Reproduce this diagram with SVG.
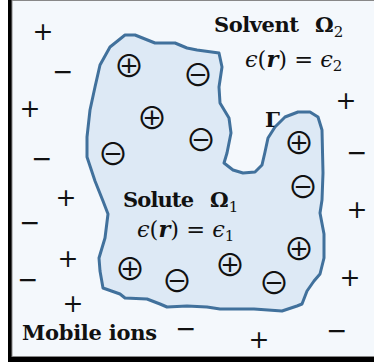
<svg xmlns="http://www.w3.org/2000/svg" width="374" height="362" viewBox="0 0 374 362">
<style>
.lbl{font-family:"DejaVu Serif","Liberation Serif",serif;font-weight:bold;font-size:21px;fill:#111}
.sub{font-family:"DejaVu Serif","Liberation Serif",serif;font-weight:normal;font-style:normal;font-size:15px;fill:#111}
.math{font-family:"DejaVu Serif","Liberation Serif",serif;font-size:22.5px;fill:#111}
.it{font-style:italic}
.bi{font-style:italic;font-weight:bold}
.ion{font-family:"Noto Sans CJK JP","DejaVu Sans",sans-serif;font-size:31px;fill:#111;text-anchor:middle}
.mob{font-family:"DejaVu Sans",sans-serif;font-size:25px;fill:#111;text-anchor:middle}
</style>
<rect x="8" y="0" width="366" height="362" fill="#000"/>
<rect x="12" y="0.5" width="363" height="356" fill="#f4f8fc" stroke="#888" stroke-width="1"/>
<g id="solute">
<path d="M110,47 L125,35 L135,35 L155,43 L175,43 L187,48 L197,50 L219,53 L222,67 L219,87 L220,103 L229,118 L231,133 L227,153 L224,163 L233,170 L243,173 L255,172 L262,165 L265,152 L268,138 L275,127 L285,117 L298,112 L310,112 L318,117 L322,130 L323,173 L322,200 L320,213 L324,234 L324,258 L320,274 L314,281 L307,291 L302,304 L297,306 L282,311 L254,309 L220,309 L207,307 L187,306 L167,307 L160,304 L147,299 L125,298 L120,294 L103,288 L100,271 L99,258 L105,238 L108,214 L103,201 L95,181 L87,157 L87,137 L90,110 L95,87 L100,65 Z" fill="#dde9f5" stroke="#41719c" stroke-width="3" stroke-linejoin="round"/>
</g>
<g id="labels">
<text class="lbl" x="214" y="32" textLength="85">Solvent</text>
<text class="lbl" x="315" y="32">Ω<tspan class="sub" dy="5">2</tspan></text>
<text class="math" x="245" y="67"><tspan class="it">ϵ</tspan>(<tspan class="bi">r</tspan>) = <tspan class="it">ϵ</tspan><tspan class="sub" dy="4">2</tspan></text>
<text class="lbl" x="265" y="127">Γ</text>
<text class="lbl" x="123" y="207" textLength="71">Solute</text>
<text class="lbl" x="210" y="207">Ω<tspan class="sub" dy="5">1</tspan></text>
<text class="math" x="137" y="237"><tspan class="it">ϵ</tspan>(<tspan class="bi">r</tspan>) = <tspan class="it">ϵ</tspan><tspan class="sub" dy="4">1</tspan></text>
<text class="lbl" x="22" y="340" textLength="135">Mobile ions</text>
</g>
<g id="fixed-charges">
<text class="ion" x="129" y="77">⊕</text>
<text class="ion" x="152" y="129">⊕</text>
<text class="ion" x="299" y="154">⊕</text>
<text class="ion" x="299" y="260">⊕</text>
<text class="ion" x="230" y="276">⊕</text>
<text class="ion" x="130" y="280">⊕</text>
<text class="ion" x="198" y="86">⊖</text>
<text class="ion" x="201" y="151">⊖</text>
<text class="ion" x="113" y="165">⊖</text>
<text class="ion" x="303" y="198">⊖</text>
<text class="ion" x="274" y="294">⊖</text>
<text class="ion" x="177" y="292">⊖</text>
</g>
<g id="mobile-ions">
<text class="mob" x="43" y="40">+</text>
<text class="mob" x="63" y="80">−</text>
<text class="mob" x="30" y="117">+</text>
<text class="mob" x="42" y="167">−</text>
<text class="mob" x="346" y="109">+</text>
<text class="mob" x="357" y="161">−</text>
<text class="mob" x="66" y="206">+</text>
<text class="mob" x="30" y="231">−</text>
<text class="mob" x="68" y="267">+</text>
<text class="mob" x="28" y="288">−</text>
<text class="mob" x="73" y="312">+</text>
<text class="mob" x="357" y="218">+</text>
<text class="mob" x="350" y="286">+</text>
<text class="mob" x="186" y="337">−</text>
<text class="mob" x="259" y="348">+</text>
<text class="mob" x="337" y="339">−</text>
</g>
</svg>
